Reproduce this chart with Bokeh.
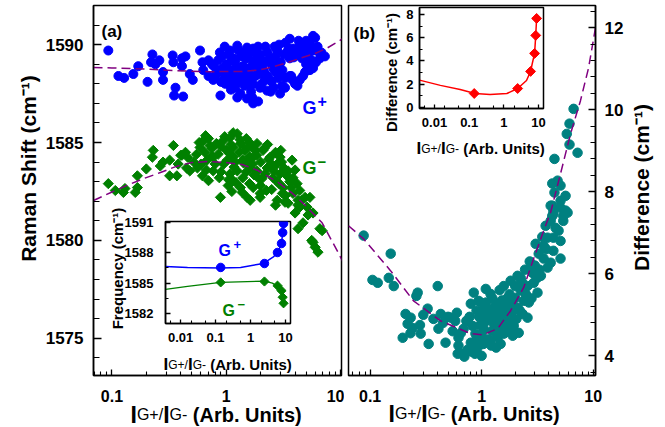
import math
from bokeh.plotting import figure
from bokeh.layouts import row
from bokeh.models import FixedTicker, CustomJSTickFormatter
from bokeh.core.properties import value
from bokeh.embed import file_html
from bokeh.resources import INLINE

FONT = "Liberation Sans"
PAGE_W, PAGE_H = 665, 427

# ---------------- panel (a): G+ and G- Raman shift vs intensity ratio ----------------
gplus_ratio = [
    0.093, 0.114, 0.128, 0.154, 0.17, 0.205, 0.226, 0.22, 0.24, 0.26,
    0.28, 0.28, 0.345, 0.34, 0.36, 0.35, 0.41, 0.41, 0.44, 0.48,
    0.51, 0.59, 0.62, 0.63, 0.70, 0.70, 0.77, 0.83, 0.89, 0.92,
    0.94, 1.08, 1.15, 1.25, 1.15, 1.08, 1.2, 1.33, 1.25, 1.52,
    1.72, 1.56, 1.72, 1.56, 1.72, 1.69, 1.72, 1.98, 2.1, 2.19,
    1.98, 2.28, 2.42, 2.57, 2.79, 2.85, 3.08, 3.27, 2.96, 3.6,
    3.84, 3.6, 4.4, 4.9, 5.4, 6.0, 5.2, 4.0, 4.4, 4.9,
    5.4, 5.75, 6.6, 7.3, 5.6, 4.2, 1.9, 0.42, 1.52, 0.75,
    0.8, 0.85, 0.9, 0.95, 1.0, 1.0, 1.05, 1.1, 1.1, 1.2,
    1.3, 1.3, 1.35, 1.4, 1.45, 1.5, 1.6, 1.6, 1.65, 1.8,
    1.8, 1.85, 1.9, 2.0, 2.05, 2.2, 2.3, 2.3, 2.5, 2.5,
    2.6, 2.7, 2.7, 3.0, 3.0, 3.2, 3.3, 3.5, 3.7, 3.9,
    4.1, 4.6, 4.7, 5.0, 5.8, 6.3, 6.8, 5.0, 3.3, 2.2,
    0.97, 1.4, 5.75, 0.78, 0.88, 0.98, 1.12, 1.18, 1.28, 1.38,
    1.48, 1.58, 1.68, 1.78, 1.95, 2.15, 2.35, 2.45, 2.65, 2.85,
    3.1, 3.4, 3.6, 3.8, 4.3, 4.5, 4.8, 5.3, 5.5, 6.1,
    6.5, 1.25, 1.62, 2.0, 2.4, 2.9,
]
gplus_shift = [
    1589.7, 1588.4, 1588.3, 1588.5, 1588.9, 1588.1, 1589.5, 1589.1, 1589.0, 1589.2,
    1588.6, 1588.2, 1589.1, 1589.45, 1587.8, 1587.4, 1589.3, 1588.9, 1589.4, 1588.5,
    1588.2, 1589.7, 1589.1, 1588.7, 1588.4, 1589.2, 1588.2, 1588.7, 1587.4, 1589.4,
    1588.8, 1589.7, 1589.3, 1588.8, 1588.4, 1588.0, 1587.8, 1587.5, 1589.95, 1589.85,
    1589.8, 1589.3, 1589.0, 1588.5, 1588.0, 1587.3, 1587.0, 1589.5, 1588.7, 1588.2,
    1587.8, 1587.65, 1589.3, 1588.8, 1589.7, 1588.3, 1587.9, 1587.8, 1587.5, 1590.3,
    1589.8, 1589.3, 1590.05, 1589.85, 1590.1, 1590.35, 1589.45, 1588.0, 1588.2, 1588.6,
    1588.7, 1588.8, 1589.3, 1589.4, 1589.2, 1587.9, 1587.1, 1587.35, 1587.25, 1589.0,
    1588.4, 1589.2, 1588.1, 1588.5, 1589.0, 1588.3, 1589.5, 1588.7, 1587.7, 1589.1,
    1588.5, 1588.1, 1589.4, 1588.9, 1587.9, 1588.7, 1589.6, 1588.2, 1587.6, 1589.2,
    1588.4, 1588.8, 1589.9, 1588.5, 1588.0, 1589.1, 1589.6, 1588.4, 1589.0, 1588.1,
    1587.8, 1589.4, 1588.6, 1589.1, 1588.5, 1589.5, 1588.3, 1589.8, 1588.4, 1589.35,
    1589.6, 1589.3, 1588.4, 1589.0, 1589.7, 1589.9, 1589.6, 1590.2, 1590.1, 1589.9,
    1589.9, 1589.6, 1590.45, 1588.9, 1589.6, 1588.0, 1589.2, 1588.2, 1589.7, 1588.3,
    1589.3, 1588.8, 1588.4, 1589.6, 1588.9, 1588.6, 1589.2, 1587.6, 1589.9, 1589.0,
    1588.7, 1589.6, 1588.4, 1588.2, 1590.2, 1589.8, 1589.5, 1589.9, 1588.9, 1589.1,
    1589.6, 1587.3, 1587.9, 1589.3, 1588.2, 1590.0,
]

gminus_ratio = [
    0.093, 0.107, 0.126, 0.13, 0.16, 0.167, 0.167, 0.2, 0.23, 0.226,
    0.265, 0.28, 0.32, 0.345, 0.32, 0.37, 0.41, 0.44, 0.46, 0.48,
    0.56, 0.59, 0.63, 0.70, 0.72, 0.68, 0.77, 0.77, 0.70, 0.89,
    0.94, 1.08, 1.15, 1.25, 1.33, 1.02, 1.15, 1.08, 1.25, 1.15,
    1.33, 1.52, 1.72, 1.86, 1.62, 1.86, 1.72, 1.52, 1.98, 2.1,
    2.42, 2.28, 2.79, 2.57, 2.96, 3.15, 2.79, 3.77, 3.48, 3.84,
    4.17, 3.84, 4.4, 4.6, 4.9, 4.4, 5.1, 5.4, 5.75, 4.25,
    6.6, 5.75, 6.35, 6.9, 5.6, 6.0, 4.25, 4.7, 5.2, 5.4,
    2.96, 2.7, 3.48, 0.52, 0.55, 0.6, 0.65, 0.75, 0.8, 0.85,
    0.9, 0.9, 0.95, 1.0, 1.05, 1.1, 1.2, 1.3, 1.4, 1.4,
    1.45, 1.5, 1.6, 1.6, 1.7, 1.8, 1.9, 2.0, 2.0, 2.2,
    2.3, 2.5, 2.5, 2.7, 2.9, 3.2, 3.3, 3.6, 4.0, 0.38,
    0.62, 1.38, 1.04, 0.4, 1.98, 3.27, 4.25, 1.62, 4.0, 3.0,
    1.15, 0.66, 1.6, 0.58, 0.67, 0.74, 0.82, 0.87, 0.97, 1.07,
    1.17, 1.22, 1.32, 1.42, 1.55, 1.65, 1.75, 1.85, 2.05, 2.15,
    2.35, 2.6, 2.8, 3.05, 3.4, 3.7, 0.45, 1.12, 1.5, 2.25,
    3.1,
]
gminus_shift = [
    1582.9, 1582.55, 1582.45, 1582.65, 1582.45, 1582.7, 1583.3, 1583.65, 1584.6, 1584.25,
    1583.8, 1584.0, 1584.1, 1584.85, 1583.3, 1583.3, 1584.35, 1584.5, 1584.25, 1583.55,
    1583.7, 1584.75, 1585.1, 1585.2, 1584.85, 1584.1, 1584.25, 1583.55, 1583.05, 1582.2,
    1585.1, 1585.25, 1584.75, 1585.45, 1584.95, 1584.1, 1584.25, 1583.4, 1583.55, 1583.05,
    1582.7, 1584.75, 1584.25, 1584.95, 1583.7, 1583.55, 1582.7, 1582.2, 1582.4, 1584.6,
    1584.25, 1583.7, 1583.9, 1583.2, 1583.4, 1582.7, 1582.05, 1584.1, 1583.55, 1583.2,
    1582.9, 1582.4, 1582.55, 1582.05, 1582.2, 1581.7, 1581.7, 1581.4, 1581.4, 1581.8,
    1580.6, 1579.9, 1579.4, 1580.5, 1580.0, 1579.65, 1580.6, 1580.9, 1581.3, 1582.2,
    1584.25, 1581.8, 1581.9, 1584.0, 1584.4, 1583.9, 1584.5, 1584.7, 1583.9, 1584.4,
    1584.8, 1583.5, 1583.9, 1584.6, 1583.1, 1584.9, 1584.0, 1584.5, 1584.1, 1583.2,
    1584.6, 1583.5, 1584.3, 1582.9, 1583.9, 1584.6, 1583.2, 1584.0, 1582.8, 1583.4,
    1584.9, 1583.9, 1582.6, 1584.5, 1582.9, 1583.7, 1582.3, 1583.0, 1583.6, 1583.9,
    1583.3, 1582.45, 1582.8, 1584.35, 1582.2, 1581.95, 1582.05, 1582.05, 1581.4, 1584.6,
    1585.5, 1585.35, 1585.0, 1585.0, 1583.6, 1584.3, 1584.95, 1583.2, 1585.3, 1584.45,
    1583.75, 1582.95, 1585.15, 1583.95, 1584.05, 1584.8, 1583.35, 1584.35, 1583.15, 1584.7,
    1584.15, 1583.55, 1583.0, 1584.0, 1583.3, 1582.7, 1583.7, 1582.5, 1585.2, 1582.55,
    1582.4,
]

# fitted trends (dashed)
gplus_fit_ratio = [0.069, 0.1, 0.2, 0.36, 0.7, 1.38, 1.9, 2.5, 3.5, 4.5, 6.0, 7.5, 9.5, 10.5]
gplus_fit_shift = [1588.83, 1588.81, 1588.75, 1588.67, 1588.62, 1588.63, 1588.7, 1588.85,
                   1589.1, 1589.32, 1589.55, 1589.8, 1590.15, 1590.32]
gminus_fit_ratio = [0.069, 0.098, 0.134, 0.19, 0.266, 0.366, 0.5, 0.7, 0.98, 1.38, 1.9,
                    2.85, 3.8, 4.9, 6.9, 9.5, 10.5]
gminus_fit_shift = [1582.04, 1582.45, 1582.8, 1583.16, 1583.47, 1583.78, 1583.98, 1584.03,
                    1583.98, 1583.88, 1583.57, 1582.96, 1582.4, 1581.8, 1580.9, 1579.4, 1578.9]

# ---------------- panel (b): G+ - G- difference ----------------
diff_ratio = [
    0.0875, 0.153, 0.105, 0.117, 0.147, 0.163, 0.267, 0.26, 0.208, 0.231,
    0.217, 0.24, 0.196, 0.284, 0.328, 0.335, 0.404, 0.41, 0.37, 0.43,
    0.475, 0.53, 0.58, 0.62, 0.69, 0.61, 0.675, 0.72, 0.80, 0.88,
    0.83, 0.85, 0.94, 0.8, 1.09, 1.2, 1.02, 1.13, 1.28, 1.39,
    1.48, 0.92, 1.04, 1.2, 1.39, 1.58, 1.48, 1.58, 1.82, 1.9,
    1.71, 1.58, 1.82, 2.0, 1.71, 2.0, 2.24, 2.38, 1.9, 2.1,
    2.33, 2.58, 1.94, 2.15, 2.24, 2.58, 2.86, 2.93, 3.17, 3.05,
    3.25, 3.6, 3.9, 4.16, 3.6, 3.9, 4.4, 3.75, 4.16, 4.6,
    4.9, 5.1, 4.4, 4.4, 4.3, 5.1, 5.9, 5.4, 5.1, 6.68,
    6.14, 5.8, 6.14, 7.25, 4.5, 4.3, 4.8, 5.1, 4.5, 5.66,
    5.1, 4.16, 4.4, 4.3, 5.66, 5.4, 0.7, 0.75, 0.9, 1.0,
    1.05, 1.1, 1.15, 1.25, 1.3, 1.35, 1.45, 1.55, 1.65, 1.75,
    0.95, 0.98, 1.1, 0.6, 0.55, 0.73, 1.25, 1.45, 2.1, 2.45,
    2.7, 3.3, 3.4, 3.5, 3.8, 2.8, 1.35, 0.87, 1.0, 0.62,
    0.5, 0.45, 0.3, 0.28, 0.23, 0.65, 0.78, 0.82, 0.97, 1.07,
    1.12, 1.18, 1.22, 1.32, 1.42, 1.52, 1.62, 1.68, 1.78, 1.88,
    2.05, 2.2, 2.3, 2.5, 2.65, 2.75, 3.0, 3.15, 1.0, 1.38,
    0.9,
]
diff_value = [
    6.93, 6.49, 5.85, 5.78, 5.9, 5.7, 5.54, 5.46, 5.02, 4.93,
    4.78, 4.68, 4.44, 4.54, 5.15, 4.29, 5.7, 4.66, 4.9, 5.02,
    4.32, 4.93, 4.85, 4.44, 4.66, 4.05, 4.05, 4.07, 4.32, 4.54,
    4.73, 5.54, 5.34, 5.27, 5.63, 5.51, 5.1, 5.02, 4.93, 5.27,
    5.1, 4.2, 4.29, 4.37, 4.44, 4.54, 4.29, 4.73, 4.68, 4.49,
    4.85, 5.7, 5.83, 5.7, 5.41, 5.41, 5.59, 5.34, 5.1, 5.17,
    5.02, 4.93, 4.73, 4.56, 5.9, 5.7, 6.02, 5.78, 5.54, 6.73,
    6.49, 6.37, 6.15, 6.27, 6.68, 6.88, 6.56, 7.17, 7.29, 7.12,
    7.05, 6.8, 6.88, 7.46, 7.66, 7.61, 7.49, 7.29, 6.37, 10.02,
    9.66, 9.41, 9.15, 8.95, 8.8, 8.2, 8.27, 8.15, 7.98, 7.9,
    7.78, 7.66, 7.54, 7.41, 7.54, 7.41, 3.98, 4.15, 4.4, 4.5,
    4.65, 4.85, 4.4, 4.6, 4.75, 5.1, 4.65, 5.0, 5.2, 5.0,
    4.95, 5.3, 5.3, 5.05, 4.6, 4.85, 5.4, 5.6, 5.95, 6.1,
    6.3, 6.1, 5.95, 6.9, 6.6, 5.4, 4.2, 4.05, 4.0, 4.25,
    4.95, 4.8, 5.0, 4.75, 4.55, 4.55, 4.95, 4.1, 4.75, 4.35,
    5.15, 4.95, 4.25, 5.2, 4.9, 5.35, 4.9, 4.6, 5.5, 5.3,
    4.9, 5.1, 5.8, 5.5, 5.3, 6.15, 6.2, 5.9, 4.3, 4.55,
    5.1,
]
diff_fit_ratio = [0.064, 0.0875, 0.153, 0.245, 0.43, 0.8, 1.02, 1.39, 1.82, 2.38, 2.93,
                  3.6, 4.16, 5.1, 6.27, 7.7, 9.1, 10.5]
diff_fit_value = [7.17, 6.85, 6.07, 5.34, 4.85, 4.54, 4.51, 4.66, 5.1, 5.66, 6.37,
                  7.05, 7.5, 8.44, 9.41, 10.22, 11.02, 12.0]

# ---------------- insets: averaged values ----------------
avg_ratio = [0.14, 2.5, 5.9, 7.7, 8.3, 8.8]
avg_gplus = [1586.55, 1586.94, 1588.03, 1588.92, 1590.0, 1590.9]
avg_gminus = [1585.07, 1585.16, 1584.75, 1584.25, 1583.6, 1583.0]
avg_diff = [1.2, 1.63, 3.1, 4.65, 6.2, 7.66]

gplus_curve_ratio = [0.0037, 0.0158, 0.139, 0.52, 2.35, 4.5, 5.9, 7.7, 8.3, 8.8]
gplus_curve_shift = [1586.65, 1586.55, 1586.5, 1586.55, 1586.95, 1587.6, 1588.0, 1588.9, 1590.0, 1590.9]
gminus_curve_ratio = [0.0037, 0.0158, 0.14, 2.5, 4.2, 5.9, 7.7, 8.3, 8.8]
gminus_curve_shift = [1584.37, 1584.67, 1585.07, 1585.2, 1585.0, 1584.7, 1584.2, 1583.6, 1583.0]
diff_curve_ratio = [0.0037, 0.0148, 0.055, 0.148, 0.4, 1.22, 2.5, 4.5, 5.9, 6.7, 7.7, 8.3, 8.8]
diff_curve_value = [2.35, 1.9, 1.55, 1.2, 1.12, 1.2, 1.63, 2.32, 3.1, 3.87, 4.65, 6.2, 7.66]

BLUE, GREEN, TEAL, PURPLE, RED = "#0000ff", "#008000", "#008080", "#800080", "#ff0000"
DIAMOND = math.pi / 4


def at(left, top):
    return {"position": "absolute", "left": f"{left}px", "top": f"{top}px"}


def decade_ticks(lo, hi, mults):
    out = []
    for e in range(-4, 3):
        for m in mults:
            v = round(m * 10.0 ** e, 8)
            if lo <= v <= hi:
                out.append(v)
    return out


def plain_formatter():
    return CustomJSTickFormatter(code="return String(Number(tick.toPrecision(6)));")


def style_axis(ax, size, major_in, minor_in, standoff):
    ax.formatter = plain_formatter()
    ax.major_label_text_font = FONT
    ax.major_label_text_font_size = size
    ax.major_label_text_font_style = "bold"
    ax.major_label_text_color = "black"
    ax.major_tick_in = major_in
    ax.major_tick_out = 0
    ax.minor_tick_in = minor_in
    ax.minor_tick_out = 0
    ax.axis_line_width = 1.5
    ax.major_tick_line_width = 1.3
    ax.minor_tick_line_width = 1.1
    ax.major_label_standoff = standoff


def main_panel(width, x_rng, y_rng, left, right, y_side):
    p = figure(width=width, height=PAGE_H, x_axis_type="log", x_range=x_rng, y_range=y_rng,
               y_axis_location=y_side, output_backend="svg", toolbar_location=None,
               title=None, min_border_left=left, min_border_right=right, min_border_top=5,
               min_border_bottom=52)
    p.grid.visible = False
    p.outline_line_color = "black"
    p.outline_line_width = 1.5
    p.background_fill_color = "white"
    p.border_fill_color = "white"
    return p


# ---- panel (a)
pa = main_panel(344, (0.069, 10.2), (1573.1, 1592.0), 93, 3, "left")
pa.xaxis.ticker = FixedTicker(ticks=[0.1, 1, 10], minor_ticks=decade_ticks(0.069, 10.2, range(2, 10)))
pa.yaxis.ticker = FixedTicker(ticks=[1575, 1580, 1585, 1590], minor_ticks=list(range(1574, 1593)))
style_axis(pa.xaxis[0], "16px", 6, 4, 14)
style_axis(pa.yaxis[0], "17px", 8, 6, 10)
pa.scatter(gplus_ratio, gplus_shift, marker="circle", size=9, color=BLUE)
pa.scatter(gminus_ratio, gminus_shift, marker="square", angle=DIAMOND, size=7.2, color=GREEN)
pa.line(gplus_fit_ratio, gplus_fit_shift, color=PURPLE, line_width=1.5, line_dash="9 5")
pa.line(gminus_fit_ratio, gminus_fit_shift, color=PURPLE, line_width=1.5, line_dash="9 5")

# ---- panel (b)
pb = main_panel(321, (0.064, 10.5), (3.52, 12.54), 4, 70, "right")
pb.xaxis.ticker = FixedTicker(ticks=[0.1, 1, 10], minor_ticks=decade_ticks(0.064, 10.5, range(2, 10)))
pb.yaxis.ticker = FixedTicker(ticks=[4, 6, 8, 10, 12],
                              minor_ticks=[round(3.6 + 0.4 * i, 2) for i in range(23)])
style_axis(pb.xaxis[0], "16px", 6, 4, 14)
style_axis(pb.yaxis[0], "17px", 7, 5, 9)
pb.scatter(diff_ratio, diff_value, marker="circle", size=9.5, color=TEAL)
pb.line(diff_fit_ratio, diff_fit_value, color=PURPLE, line_width=1.5, line_dash="9 5")


# ---- insets
def inset(frame_left, frame_top, fw, fh, y_rng, y_major, y_minor, y_standoff):
    bl, br, bt, bb = 60, 5, 5, 55
    p = figure(width=bl + fw + br, height=bt + fh + bb, x_axis_type="log",
               x_range=(0.0037, 13.9), y_range=y_rng, output_backend="svg",
               toolbar_location=None, title=None, min_border_left=bl, min_border_right=br,
               min_border_top=bt, min_border_bottom=bb,
               styles=at(frame_left - bl, frame_top - bt))
    p.grid.visible = False
    p.outline_line_color = "black"
    p.outline_line_width = 1.5
    p.background_fill_color = "white"
    p.border_fill_alpha = 0
    p.xaxis.ticker = FixedTicker(ticks=[0.01, 0.1, 1, 10],
                                 minor_ticks=decade_ticks(0.0037, 13.9, [2, 5]))
    p.yaxis.ticker = FixedTicker(ticks=y_major, minor_ticks=y_minor)
    style_axis(p.xaxis[0], "13px", 4, 3, 9)
    style_axis(p.yaxis[0], "13px", 5, 3, y_standoff)
    return p


ia = inset(165, 221, 125, 102, (1581.0, 1591.1), [1582, 1585, 1588, 1591],
           [1583.5, 1586.5, 1589.5], 12)
ia.line(gplus_curve_ratio, gplus_curve_shift, color=BLUE, line_width=1.5)
ia.line(gminus_curve_ratio, gminus_curve_shift, color=GREEN, line_width=1.3)
ia.scatter(avg_ratio, avg_gplus, marker="circle", size=8.5, color=BLUE)
ia.scatter(avg_ratio, avg_gminus, marker="square", angle=DIAMOND, size=6.5, color=GREEN)

ib = inset(419, 7, 124, 101, (-0.09, 8.6), [0, 2, 4, 6, 8], [1, 3, 5, 7], 6)
ib.line(diff_curve_ratio, diff_curve_value, color=RED, line_width=1.5)
ib.scatter(avg_ratio, avg_diff, marker="square", angle=DIAMOND, size=7, color=RED)

# ---- text layer (page pixel coordinates, y measured from the top)
ov = figure(width=PAGE_W, height=PAGE_H, x_range=(0, PAGE_W), y_range=(0, PAGE_H),
            min_border=0, min_border_left=0, min_border_right=0, min_border_top=0,
            min_border_bottom=0, x_axis_location=None, y_axis_location=None,
            output_backend="svg", toolbar_location=None, title=None, styles=at(0, 0))
ov.grid.visible = False
ov.outline_line_color = None
ov.background_fill_alpha = 0
ov.border_fill_alpha = 0

W_REG = {"I": .278, "G": .778, "+": .584, "/": .278, "-": .333, " ": .278, "(": .333,
         "A": .667, "r": .333, "b": .556, ".": .278, "U": .722, "n": .556, "i": .222,
         "t": .278, "s": .5, ")": .333}
W_BOLD = {"I": .278, "G": .778, "+": .584, "/": .278, "-": .333, " ": .278, "(": .333,
          "A": .722, "r": .389, "b": .611, ".": .278, "U": .722, "n": .611, "i": .278,
          "t": .333, "s": .556, ")": .333}


def text_width(s, size, bold):
    table = W_BOLD if bold else W_REG
    return sum(table.get(c, .556) for c in s) * size


def put(x, y, s, size, bold=True, color="black", align="left", baseline="alphabetic", angle=0.0):
    ov.text(x=[x], y=[PAGE_H - y], text=[s], text_font=value(FONT),
            text_font_size=value(f"{size}px"), text_font_style="bold" if bold else "normal",
            text_color=color, text_align=align, text_baseline=baseline, angle=angle)


def put_run(x, y, pieces):
    for s, size, bold, dy in pieces:
        put(x, y + dy, s, size, bold)
        x += text_width(s, size, bold)


def ratio_label(x, y, big, small, tail):
    put_run(x, y, [("I", big, True, 0), ("G+/", small, False, 0), ("I", big, True, 0),
                   ("G-", small, False, 0), (" ", tail, True, 0), ("(Arb. Units)", tail, True, 0)])


ratio_label(130, 414, 23, 16, 20)
ratio_label(388, 413, 23, 16, 20)
ratio_label(163, 364, 17, 12, 15)
ratio_label(416, 148, 17, 12, 15)

put(28, 168, "Raman Shift (cm⁻¹)", 21, align="center", baseline="middle", angle=math.pi / 2)
put(641, 187, "Difference (cm⁻¹)", 21, align="center", baseline="middle", angle=math.pi / 2)
put(117, 268, "Frequency (cm⁻¹)", 15, align="center", baseline="middle", angle=math.pi / 2)
put(391, 72, "Difference (cm⁻¹)", 15, align="center", baseline="middle", angle=math.pi / 2)

put(101, 31, "(a)", 17)
put(353, 33, "(b)", 17)

put(302, 107, "G", 18, color=BLUE)
put(317, 100, "+", 16, color=BLUE)
put(302, 167, "G", 18, color=GREEN)
put(317, 161, "−", 15, color=GREEN)

put(218, 250, "G", 16, color=BLUE)
put(233, 244, "+", 13, color=BLUE)
put(222, 310, "G", 16, color=GREEN)
put(237, 304, "−", 13, color=GREEN)

panels = row(pa, pb, styles=at(0, 0))

# every piece is absolutely placed on the page; the text layer goes on top
p = [panels, ia, ib, ov]

open("out.html", "w").write(file_html(p, INLINE))
